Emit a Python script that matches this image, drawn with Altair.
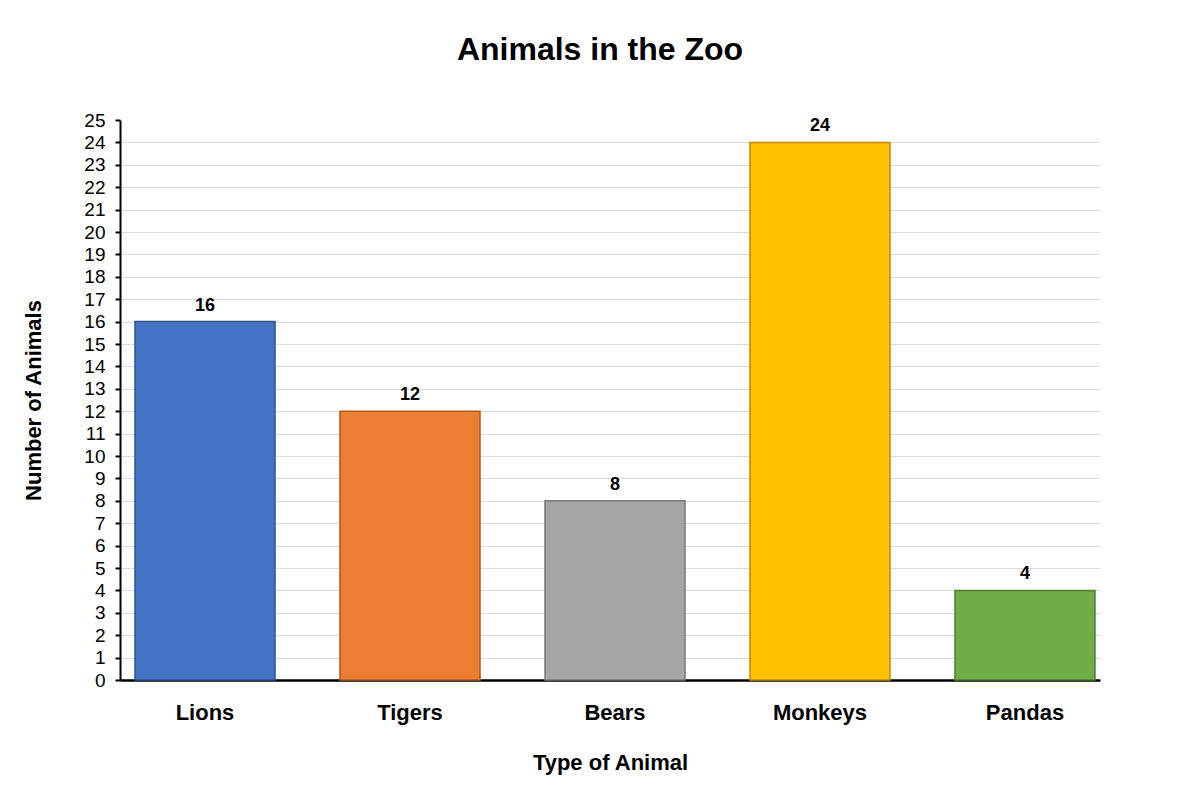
import altair as alt
import pandas as pd

animals = ["Lions", "Tigers", "Bears", "Monkeys", "Pandas"]
counts = [16, 12, 8, 24, 4]
fills = ["#4472C4", "#ED7D31", "#A5A5A5", "#FFC000", "#70AD47"]
edges = ["#2F528F", "#AE5A21", "#787878", "#BC8C00", "#507E32"]
y_ticks = list(range(0, 26))

df = pd.DataFrame({"animal": animals, "count": counts})

FONT = "Liberation Sans"

x_enc = alt.X(
    "animal:N",
    sort=animals,
    scale=alt.Scale(paddingInner=0.317, paddingOuter=0.0488, align=0.75),
    axis=alt.Axis(
        title="Type of Animal",
        labelAngle=0,
        labelFont=FONT,
        labelFontSize=22,
        labelFontWeight="bold",
        labelColor="black",
        labelBaseline="middle",
        labelPadding=32,
        ticks=False,
        domainColor="black",
        domainWidth=2.5,
        titleFont=FONT,
        titleFontSize=22,
        titleFontWeight="bold",
        titleColor="black",
        titleX=490,
        titleY=82,
        titleBaseline="middle",
        titleAlign="center",
    ),
)

y_enc = alt.Y(
    "count:Q",
    scale=alt.Scale(domain=[0, 25], nice=False),
    axis=alt.Axis(
        title="Number of Animals",
        values=y_ticks,
        tickCount=26,
        labelOverlap=False,
        labelFont=FONT,
        labelFontSize=19,
        labelColor="black",
        labelPadding=10,
        tickSize=5,
        tickWidth=2,
        tickColor="black",
        domainColor="black",
        domainWidth=2,
        grid=True,
        gridColor=alt.condition(
            alt.datum.value == 25, alt.value("transparent"), alt.value("#dcdcdc")
        ),
        gridWidth=1,
        titleFont=FONT,
        titleFontSize=22,
        titleFontWeight="bold",
        titleColor="black",
        titleAngle=-90,
        titleX=-87,
        titleY=280,
        titleBaseline="middle",
        titleAlign="center",
    ),
)

base = alt.Chart(df).encode(x=x_enc, y=y_enc)

bars = base.mark_bar(strokeWidth=1.5).encode(
    color=alt.Color(
        "animal:N", scale=alt.Scale(domain=animals, range=fills), legend=None
    ),
    stroke=alt.Stroke(
        "animal:N", scale=alt.Scale(domain=animals, range=edges), legend=None
    ),
)

labels = base.mark_text(
    font=FONT, fontSize=18, fontWeight="bold", color="black",
    baseline="alphabetic", dy=-11,
).encode(text="count:Q")

chart = (
    (bars + labels)
    .properties(
        width=980,
        height=560,
        title=alt.TitleParams(
            "Animals in the Zoo",
            font=FONT,
            fontSize=32,
            fontWeight="bold",
            color="black",
            anchor="middle",
            dx=-10,
            offset=44,
        ),
        autosize=alt.AutoSizeParams(type="none"),
        padding={"left": 112, "top": 112, "right": 80, "bottom": 110},
    )
    .configure_view(stroke=None)
)

chart.save("out.html", embed_options={"renderer": "svg", "actions": False})
